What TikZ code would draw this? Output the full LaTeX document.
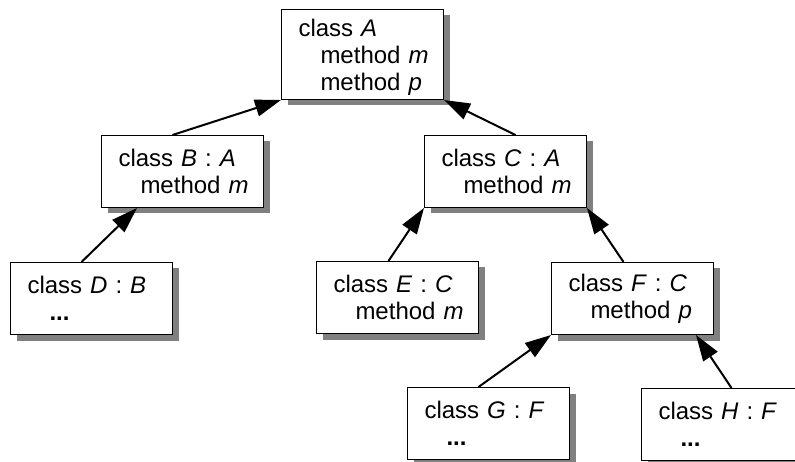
\documentclass[tikz,border=0pt]{standalone}
\usepackage{fontspec}
\setmainfont{Liberation Sans}
\usetikzlibrary{arrows.meta,shadows}
\tikzstyle{sheet} = [x = 1pt, y = -1pt]
\tikzstyle{classStyle} = [draw=black, fill=white, line width=1pt, anchor=north west, minimum width=162pt, minimum height=72pt, text width=128pt, inner xsep=17pt, inner ysep=0pt, align=left, font=\fontsize{24}{27}\selectfont, drop shadow={shadow xshift=6pt, shadow yshift=-6pt, fill=black!50, opacity=1}]
\tikzstyle{inheritLine} = [line width=2pt, -{Triangle[length=26pt, width=17pt]}]
\newcommand{\indentWidth}{22pt}
\newcommand{\topStrut}{\rule{0pt}{23pt}}
\newcommand{\subLine}[1]{\\\hspace*{\indentWidth}\mbox{#1}}
\newcommand{\moreDots}{\textbf{...}}
\newcommand{\classBox}[5][]{\node [classStyle, #1] (#2) at (#3,#4) {#5};}
\newcommand{\inheritArrow}[2]{\draw [inheritLine] (#1) -- (#2);}

\begin{document}
\begin{tikzpicture}[sheet]
  \useasboundingbox (0,0) rectangle (795,462);
  \classBox[minimum height=90pt]{A}{281}{9}{\topStrut class \textit{A}\subLine{method \textit{m}}\subLine{method \textit{p}}}
  \classBox{B}{101}{135}{class \textit{B} : \textit{A}\subLine{method \textit{m}}}
  \classBox{C}{424}{135}{class \textit{C} : \textit{A}\subLine{method \textit{m}}}
  \classBox{D}{10}{262}{class \textit{D} : \textit{B}\subLine{\moreDots}}
  \classBox{E}{316}{261}{class \textit{E} : \textit{C}\subLine{method \textit{m}}}
  \classBox{F}{551}{262}{class \textit{F} : \textit{C}\subLine{method \textit{p}}}
  \classBox{G}{407}{387}{class \textit{G} : \textit{F}\subLine{\moreDots}}
  \classBox{H}{641}{388}{class \textit{H} : \textit{F}\subLine{\moreDots}}

  \inheritArrow{[xshift=-10pt]B.north}{A.south west}
  \inheritArrow{[xshift=10pt]C.north}{A.south east}
  \inheritArrow{[xshift=-10pt]D.north}{[xshift=36pt]B.south west}
  \inheritArrow{[xshift=-9pt]E.north}{C.south west}
  \inheritArrow{[xshift=-9pt]F.north}{C.south east}
  \inheritArrow{[xshift=-10pt]G.north}{F.south west}
  \inheritArrow{[xshift=9pt]H.north}{[xshift=-18pt]F.south east}
\end{tikzpicture}
\end{document}
